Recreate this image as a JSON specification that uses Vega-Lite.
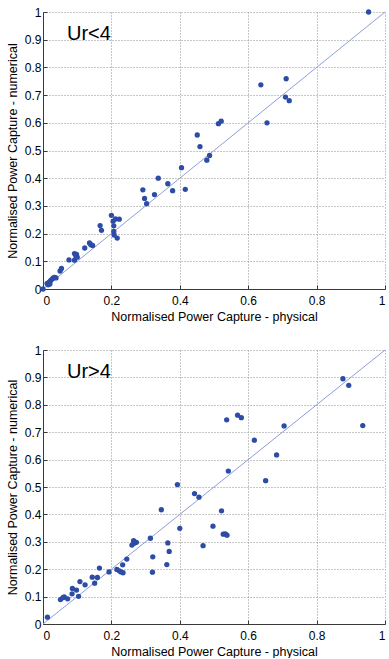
{
  "$schema": "https://vega.github.io/schema/vega-lite/v6.json",
  "padding": {"left": 6, "top": 6, "right": 0, "bottom": 0},
  "bounds": "flush",
  "spacing": 61,
  "config": {
    "view": {"stroke": null},
    "font": "Liberation Sans",
    "title": {"anchor": "start", "frame": "group", "fontSize": 20, "fontWeight": "normal", "font": "Liberation Sans", "color": "#000", "baseline": "middle", "offset": -29, "dx": 24, "dy": 9},
    "axis": {
      "grid": true,
      "gridDash": [1, 2],
      "gridColor": "#8c8c8c",
      "gridOpacity": 1,
      "gridWidth": 1,
      "domainColor": "#3a3a3a",
      "tickColor": "#3a3a3a",
      "tickSize": -4,
      "labelFont": "Liberation Sans",
      "labelFontSize": 12,
      "labelColor": "#000",
      "labelOverlap": false,
      "titleFont": "Liberation Sans",
      "titleFontSize": 12.5,
      "titleFontWeight": "normal",
      "titleColor": "#000",
      "format": "~g"
    },
    "axisX": {"labelPadding": 10, "titlePadding": 4},
    "axisY": {"labelPadding": 6, "titlePadding": 5}
  },
  "datasets": {
    "ur_lt4": [
      {"physical": 0, "numerical": 0},
      {"physical": 0.012, "numerical": 0.02},
      {"physical": 0.015, "numerical": 0.015},
      {"physical": 0.018, "numerical": 0.025},
      {"physical": 0.022, "numerical": 0.03},
      {"physical": 0.026, "numerical": 0.035},
      {"physical": 0.03, "numerical": 0.04},
      {"physical": 0.034, "numerical": 0.042},
      {"physical": 0.038, "numerical": 0.04},
      {"physical": 0.02, "numerical": 0.018},
      {"physical": 0.05, "numerical": 0.065},
      {"physical": 0.054, "numerical": 0.074},
      {"physical": 0.076, "numerical": 0.105},
      {"physical": 0.092, "numerical": 0.128},
      {"physical": 0.096, "numerical": 0.12},
      {"physical": 0.1, "numerical": 0.115},
      {"physical": 0.092, "numerical": 0.104},
      {"physical": 0.098, "numerical": 0.125},
      {"physical": 0.122, "numerical": 0.148},
      {"physical": 0.136, "numerical": 0.166},
      {"physical": 0.14, "numerical": 0.16},
      {"physical": 0.145, "numerical": 0.157},
      {"physical": 0.167, "numerical": 0.229},
      {"physical": 0.171, "numerical": 0.212},
      {"physical": 0.2, "numerical": 0.266},
      {"physical": 0.205, "numerical": 0.245},
      {"physical": 0.207, "numerical": 0.228},
      {"physical": 0.207, "numerical": 0.208},
      {"physical": 0.208, "numerical": 0.195},
      {"physical": 0.212, "numerical": 0.253},
      {"physical": 0.223, "numerical": 0.252},
      {"physical": 0.217, "numerical": 0.184},
      {"physical": 0.292, "numerical": 0.358},
      {"physical": 0.297, "numerical": 0.327},
      {"physical": 0.303, "numerical": 0.308},
      {"physical": 0.326, "numerical": 0.341},
      {"physical": 0.337, "numerical": 0.4},
      {"physical": 0.365, "numerical": 0.38},
      {"physical": 0.379, "numerical": 0.355},
      {"physical": 0.405, "numerical": 0.438},
      {"physical": 0.416, "numerical": 0.36},
      {"physical": 0.451, "numerical": 0.556},
      {"physical": 0.459, "numerical": 0.514},
      {"physical": 0.479, "numerical": 0.465},
      {"physical": 0.487, "numerical": 0.482},
      {"physical": 0.513, "numerical": 0.597},
      {"physical": 0.521, "numerical": 0.606},
      {"physical": 0.637, "numerical": 0.737},
      {"physical": 0.655, "numerical": 0.6},
      {"physical": 0.709, "numerical": 0.693},
      {"physical": 0.711, "numerical": 0.759},
      {"physical": 0.72, "numerical": 0.68},
      {"physical": 0.952, "numerical": 1.0}
    ],
    "ur_gt4": [
      {"physical": 0.013, "numerical": 0.025},
      {"physical": 0.051, "numerical": 0.089},
      {"physical": 0.058, "numerical": 0.096},
      {"physical": 0.062, "numerical": 0.099},
      {"physical": 0.072, "numerical": 0.092},
      {"physical": 0.085, "numerical": 0.11},
      {"physical": 0.086, "numerical": 0.13},
      {"physical": 0.098, "numerical": 0.124},
      {"physical": 0.104, "numerical": 0.101},
      {"physical": 0.108, "numerical": 0.155},
      {"physical": 0.123, "numerical": 0.143},
      {"physical": 0.144, "numerical": 0.171},
      {"physical": 0.151, "numerical": 0.149},
      {"physical": 0.159, "numerical": 0.17},
      {"physical": 0.165, "numerical": 0.204},
      {"physical": 0.193, "numerical": 0.19},
      {"physical": 0.216, "numerical": 0.199},
      {"physical": 0.223, "numerical": 0.194},
      {"physical": 0.228, "numerical": 0.19},
      {"physical": 0.234, "numerical": 0.187},
      {"physical": 0.233, "numerical": 0.216},
      {"physical": 0.245, "numerical": 0.237},
      {"physical": 0.26, "numerical": 0.288},
      {"physical": 0.265, "numerical": 0.304},
      {"physical": 0.267, "numerical": 0.295},
      {"physical": 0.273, "numerical": 0.298},
      {"physical": 0.314, "numerical": 0.313},
      {"physical": 0.321, "numerical": 0.245},
      {"physical": 0.32, "numerical": 0.189},
      {"physical": 0.346, "numerical": 0.417},
      {"physical": 0.365, "numerical": 0.296},
      {"physical": 0.369, "numerical": 0.265},
      {"physical": 0.362, "numerical": 0.217},
      {"physical": 0.4, "numerical": 0.349},
      {"physical": 0.393, "numerical": 0.509},
      {"physical": 0.443, "numerical": 0.476},
      {"physical": 0.456, "numerical": 0.463},
      {"physical": 0.468, "numerical": 0.286},
      {"physical": 0.497, "numerical": 0.357},
      {"physical": 0.522, "numerical": 0.413},
      {"physical": 0.527, "numerical": 0.328},
      {"physical": 0.533, "numerical": 0.329},
      {"physical": 0.538, "numerical": 0.324},
      {"physical": 0.537, "numerical": 0.745},
      {"physical": 0.542, "numerical": 0.558},
      {"physical": 0.569, "numerical": 0.762},
      {"physical": 0.58, "numerical": 0.753},
      {"physical": 0.618, "numerical": 0.671},
      {"physical": 0.651, "numerical": 0.523},
      {"physical": 0.683, "numerical": 0.617},
      {"physical": 0.705, "numerical": 0.723},
      {"physical": 0.877, "numerical": 0.895},
      {"physical": 0.894, "numerical": 0.871},
      {"physical": 0.935, "numerical": 0.724}
    ],
    "diag": [
      {"physical": 0, "numerical": 0},
      {"physical": 1, "numerical": 1}
    ]
  },
  "vconcat": [
    {
      "title": "Ur<4",
      "width": 342,
      "height": 277,
      "encoding": {
        "x": {"field": "physical", "type": "quantitative", "scale": {"domain": [0, 1], "nice": false}, "title": "Normalised Power Capture - physical", "axis": {"values": [0, 0.2, 0.4, 0.6, 0.8, 1]}},
        "y": {"field": "numerical", "type": "quantitative", "scale": {"domain": [0, 1], "nice": false}, "title": "Normalised Power Capture - numerical", "axis": {"values": [0, 0.1, 0.2, 0.3, 0.4, 0.5, 0.6, 0.7, 0.8, 0.9, 1]}}
      },
      "layer": [
        {
          "data": {"name": "diag"},
          "mark": {"type": "line", "color": "#8d9ed6", "strokeWidth": 1}
        },
        {
          "data": {"name": "ur_lt4"},
          "mark": {"type": "point", "filled": true, "color": "#2c4ca6", "opacity": 1, "size": 28}
        }
      ]
    },
    {
      "title": "Ur>4",
      "width": 342,
      "height": 274,
      "encoding": {
        "x": {"field": "physical", "type": "quantitative", "scale": {"domain": [0, 1], "nice": false}, "title": "Normalised Power Capture - physical", "axis": {"values": [0, 0.2, 0.4, 0.6, 0.8, 1]}},
        "y": {"field": "numerical", "type": "quantitative", "scale": {"domain": [0, 1], "nice": false}, "title": "Normalised Power Capture - numerical", "axis": {"values": [0, 0.1, 0.2, 0.3, 0.4, 0.5, 0.6, 0.7, 0.8, 0.9, 1]}}
      },
      "layer": [
        {
          "data": {"name": "diag"},
          "mark": {"type": "line", "color": "#8d9ed6", "strokeWidth": 1}
        },
        {
          "data": {"name": "ur_gt4"},
          "mark": {"type": "point", "filled": true, "color": "#2c4ca6", "opacity": 1, "size": 28}
        }
      ]
    }
  ]
}
